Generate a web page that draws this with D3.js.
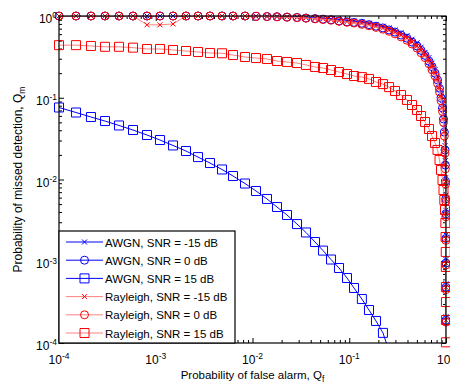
<!DOCTYPE html>
<html>
<head>
<meta charset="utf-8">
<script src="https://cdn.jsdelivr.net/npm/d3@7"></script>
<style>
  body { margin: 0; background: #fff; }
  svg { display: block; font-family: "Liberation Sans", Arial, sans-serif; }
</style>
</head>
<body>
<svg id="chart" width="450" height="385"></svg>
<script>
// false alarm probability grid (shared by all curves)
const qf = [1e-4, 1.5e-4, 2.14e-4, 2.99e-4, 4.17e-4, 5.82e-4, 8.12e-4, 1.106e-3, 1.508e-3, 2.055e-3,
  2.734e-3, 3.637e-3, 4.84e-3, 6.29e-3, 8.37e-3, 1.087e-2, 1.412e-2, 1.792e-2, 2.273e-2, 2.884e-2,
  3.57e-2, 4.43e-2, 5.36e-2, 6.48e-2, 7.84e-2, 9.48e-2, 0.112, 0.135, 0.160, 0.189,
  0.223, 0.258, 0.297, 0.343, 0.395, 0.445, 0.502, 0.552, 0.607, 0.667,
  0.717, 0.770, 0.817, 0.857, 0.888, 0.920, 0.942, 0.961, 0.977, 0.985,
  0.99, 0.994, 0.996, 0.998, 0.999, 0.9995, 0.9998];

// missed detection probability per curve
const qmAwgnN15 = [1, 1, 1, 1, 1, 1, 1, 1, 1, 1, 1, 1, 1, 1, 1,
  0.995, 0.99, 0.985, 0.978, 0.97, 0.96, 0.948, 0.935, 0.92, 0.905,
  0.885, 0.865, 0.84, 0.815, 0.785, 0.75, 0.715, 0.675, 0.625, 0.575,
  0.52, 0.47, 0.415, 0.36, 0.31, 0.265, 0.22, 0.18, 0.145, 0.112,
  0.083, 0.062, 0.042, 0.026, 0.017, 0.0105, 0.0064, 0.0042, 0.0021, 0.00105,
  0.00053, 0.00021];
const qmAwgn0 = [1, 1, 1, 1, 1, 1, 1, 1, 1, 1, 1, 1, 1, 1, 1,
  0.99, 0.985, 0.98, 0.97, 0.96, 0.945, 0.93, 0.915, 0.9, 0.87,
  0.85, 0.835, 0.815, 0.785, 0.75, 0.715, 0.675, 0.635, 0.585, 0.535,
  0.48, 0.43, 0.38, 0.33, 0.28, 0.24, 0.2, 0.165, 0.13, 0.1,
  0.075, 0.055, 0.038, 0.023, 0.015, 0.0095, 0.0058, 0.0038, 0.0019, 0.00095,
  0.00048, 0.00019];
const qmAwgn15 = [0.076, 0.066, 0.0581, 0.0519, 0.0458, 0.0403, 0.035, 0.0304, 0.0261, 0.0223,
  0.0188, 0.0159, 0.01326, 0.01103, 0.00893, 0.00723, 0.00578, 0.00461, 0.00368, 0.00285,
  0.00225, 0.00172, 0.00135, 0.00105, 0.000827, 0.000624, 0.000471, 0.000345, 0.000253, 0.000186,
  0.000133, 0.00008, null, null, null, null, null, null, null, null,
  null, null, null, null, null, null, null, null, null, null,
  null, null, null, null, null, null, null];
const qmRayN15 = [1, 1, 1, 1, 1, 1, 0.78, 0.78, 0.8, 1, 1, 1, 1, 1, 1,
  0.99, 0.985, 0.98, 0.97, 0.96, 0.945, 0.93, 0.915, 0.9, 0.87,
  0.85, 0.835, 0.815, 0.785, 0.75, 0.715, 0.675, 0.635, 0.585, 0.535,
  0.48, 0.43, 0.38, 0.33, 0.28, 0.24, 0.2, 0.165, 0.13, 0.1,
  0.075, 0.055, 0.038, 0.023, 0.015, 0.0095, 0.0058, 0.0038, 0.0019, 0.00095,
  0.00048, 0.00019];
const qmRay0 = [1, 1, 1, 1, 1, 1, 1, 1, 1, 1, 1, 1, 1, 1, 1,
  0.99, 0.983, 0.977, 0.967, 0.955, 0.94, 0.923, 0.905, 0.888, 0.86,
  0.838, 0.82, 0.79, 0.76, 0.725, 0.69, 0.65, 0.605, 0.555, 0.505,
  0.455, 0.405, 0.355, 0.31, 0.26, 0.22, 0.185, 0.15, 0.118, 0.092,
  0.068, 0.05, 0.034, 0.021, 0.0135, 0.0088, 0.0054, 0.0035, 0.0018, 0.0009,
  0.00045, 0.00018];
const qmRay15 = [0.44, 0.44, 0.43, 0.42, 0.42, 0.41, 0.395, 0.395, 0.384, 0.373,
  0.363, 0.353, 0.35, 0.333, 0.315, 0.306, 0.298, 0.2815, 0.274, 0.266,
  0.252, 0.238, 0.231, 0.2185, 0.2065, 0.195, 0.1845, 0.179, 0.17, 0.156,
  0.147, 0.135, 0.121, 0.108, 0.094, 0.0815, 0.0708, 0.0598, 0.0505, 0.0415,
  0.034, 0.028, 0.023, 0.0173, 0.0131, 0.00986, 0.00744, 0.00561, 0.00423, 0.00294,
  0.00198, 0.0013, 0.000851, 0.000484, 0.000317, 0.000191, 0.000102];

const seriesNames = ["AWGN, SNR = -15 dB", "AWGN, SNR = 0 dB", "AWGN, SNR = 15 dB",
  "Rayleigh, SNR = -15 dB", "Rayleigh, SNR = 0 dB", "Rayleigh, SNR = 15 dB"];
const seriesValues = [qmAwgnN15, qmAwgn0, qmAwgn15, qmRayN15, qmRay0, qmRay15];
const seriesMarkers = ["x", "o", "s", "x", "o", "s"];
const seriesChannel = ["awgn", "awgn", "awgn", "rayleigh", "rayleigh", "rayleigh"];

const decades = [1e-4, 1e-3, 1e-2, 1e-1, 1];

const lineColor = { awgn: "#0000ff", rayleigh: "#ff8080" };
const markColor = { awgn: "#0000ff", rayleigh: "#ff0000" };

const plotL = 59, plotR = 446, plotT = 16, plotB = 343;

const svg = d3.select("#chart");

const x = d3.scaleLog().domain([1e-4, 1]).range([plotL, plotR]);
const y = d3.scaleLog().domain([1e-4, 1]).range([plotB, plotT]);

svg.append("defs").append("clipPath").attr("id", "plotClip")
  .append("rect")
  .attr("x", plotL).attr("y", plotT)
  .attr("width", plotR - plotL).attr("height", plotB - plotT);

// axis ticks (inward, all four sides)
const minorTicks = x.ticks().filter(v => !decades.some(d => Math.abs(d - v) < 1e-12));

function tickAxis(axisFn, scale, tr, values, size) {
  svg.append("g")
    .attr("transform", tr)
    .call(axisFn(scale).tickValues(values).tickSize(size).tickFormat(""))
    .call(g => g.select(".domain").remove())
    .selectAll("line").attr("stroke", "#000").attr("stroke-width", 1);
}
tickAxis(d3.axisBottom, x, `translate(0,${plotB})`, decades, -5);
tickAxis(d3.axisBottom, x, `translate(0,${plotB})`, minorTicks, -3);
tickAxis(d3.axisTop, x, `translate(0,${plotT})`, decades, -5);
tickAxis(d3.axisTop, x, `translate(0,${plotT})`, minorTicks, -3);
tickAxis(d3.axisLeft, y, `translate(${plotL},0)`, decades, -5);
tickAxis(d3.axisLeft, y, `translate(${plotL},0)`, minorTicks, -3);
tickAxis(d3.axisRight, y, `translate(${plotR},0)`, decades, -5);
tickAxis(d3.axisRight, y, `translate(${plotR},0)`, minorTicks, -3);

function markerPath(type, px, py) {
  if (type === "o") {
    return `M${px + 4},${py}A4,4 0 1,1 ${px - 4},${py}A4,4 0 1,1 ${px + 4},${py}Z`;
  }
  if (type === "s") {
    return `M${px - 4.5},${py - 4.5}h9v9h-9Z`;
  }
  return `M${px - 2.5},${py - 2.5}L${px + 2.5},${py + 2.5}M${px - 2.5},${py + 2.5}L${px + 2.5},${py - 2.5}`;
}

function drawMarkers(g, xy, type, color) {
  g.append("path")
    .attr("d", xy.map(d => markerPath(type, d[0], d[1])).join(""))
    .attr("fill", "none")
    .attr("stroke", color)
    .attr("stroke-width", 1);
}

// curves
const plot = svg.append("g");

seriesValues.forEach((vals, i) => {
  const pts = qf.map((f, k) => ({ f: f, m: vals[k] }));
  const ch = seriesChannel[i];

  plot.append("path")
    .datum(pts)
    .attr("clip-path", "url(#plotClip)")
    .attr("fill", "none")
    .attr("stroke", lineColor[ch])
    .attr("stroke-width", 1)
    .attr("d", d3.line()
      .defined(d => d.m != null)
      .x(d => x(d.f))
      .y(d => y(d.m)));

  const shown = pts.filter(d => d.m != null && d.m >= 1e-4);
  drawMarkers(plot, shown.map(d => [x(d.f), y(d.m)]), seriesMarkers[i], markColor[ch]);
});

// box
svg.append("rect")
  .attr("x", plotL).attr("y", plotT)
  .attr("width", plotR - plotL).attr("height", plotB - plotT)
  .attr("fill", "none").attr("stroke", "#000").attr("stroke-width", 1.2);

// tick labels
function powLabel(sel) {
  sel.text("10")
    .append("tspan")
    .attr("dy", "-0.55em")
    .attr("font-size", "8.5px")
    .text(d => Math.round(Math.log10(d)));
}
svg.append("g").selectAll("text").data(decades).enter().append("text")
  .attr("x", d => x(d)).attr("y", plotB + 21)
  .attr("text-anchor", "middle").attr("font-size", "12px").attr("fill", "#000")
  .call(powLabel);
svg.append("g").selectAll("text").data(decades).enter().append("text")
  .attr("x", plotL - 2).attr("y", d => y(d) + 7)
  .attr("text-anchor", "end").attr("font-size", "12px").attr("fill", "#000")
  .call(powLabel);

// axis titles
const xt = svg.append("text")
  .attr("x", (plotL + plotR) / 2).attr("y", 379)
  .attr("text-anchor", "middle").attr("font-size", "11.5px").attr("fill", "#000")
  .text("Probability of false alarm, Q");
xt.append("tspan").attr("dy", "0.3em").attr("font-size", "8.5px").text("f");

const yt = svg.append("text")
  .attr("transform", `translate(22,${(plotT + plotB) / 2}) rotate(-90)`)
  .attr("text-anchor", "middle").attr("font-size", "12px").attr("fill", "#000")
  .text("Probability of missed detection, Q");
yt.append("tspan").attr("dy", "0.3em").attr("font-size", "8.5px").text("m");

// legend
const legend = svg.append("g");
legend.append("rect")
  .attr("x", plotL).attr("y", 231)
  .attr("width", 176).attr("height", plotB - 231)
  .attr("fill", "#fff").attr("stroke", "#000").attr("stroke-width", 1.2);

seriesNames.forEach((name, i) => {
  const ly = 242 + i * 18.2;
  const ch = seriesChannel[i];
  legend.append("line")
    .attr("x1", 66).attr("x2", 103).attr("y1", ly).attr("y2", ly)
    .attr("stroke", lineColor[ch]).attr("stroke-width", 1);
  drawMarkers(legend, [[84.5, ly]], seriesMarkers[i], markColor[ch]);
  legend.append("text")
    .attr("x", 105).attr("y", ly + 4.5)
    .attr("font-size", "11.5px").attr("fill", "#000")
    .text(name);
});
</script>
</body>
</html>
